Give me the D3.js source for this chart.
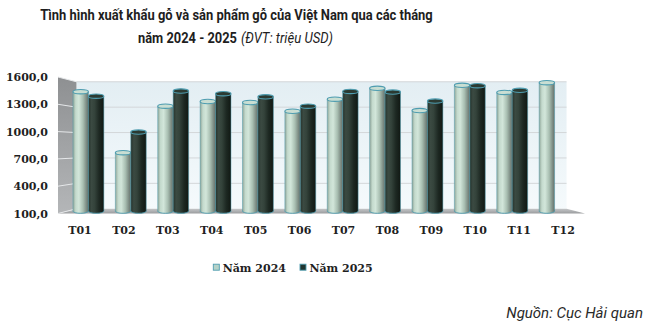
<!DOCTYPE html>
<html>
<head>
<meta charset="utf-8">
<script src="https://cdn.jsdelivr.net/npm/d3@7"></script>
<style>
  html, body { margin: 0; padding: 0; background: #fff; }
  svg { display: block; }
</style>
</head>
<body>
<svg id="chart" width="647" height="328"></svg>
<script>
// Monthly wood & wood product exports of Vietnam (million USD)
const months = ["T01", "T02", "T03", "T04", "T05", "T06", "T07", "T08", "T09", "T10", "T11", "T12"];
const seriesNames = ["Năm 2024", "Năm 2025"];
const values2024 = [1460, 766, 1295, 1348, 1337, 1237, 1375, 1498, 1245, 1532, 1452, 1563];
const values2025 = [1409, 1000, 1467, 1437, 1402, 1295, 1463, 1455, 1353, 1528, 1475, null];
const yTicks = [100, 400, 700, 1000, 1300, 1600];

const svg = d3.select("#chart");
const defs = svg.append("defs");

// Front plane of the 3D box, and a simple perspective toward its centre
const front = { left: 58, right: 585, top: 77, bottom: 213.5 };
const cx = (front.left + front.right) / 2;
const cy = (front.top + front.bottom) / 2;
const depthShrink = 0.07;
const proj = (x, y, t) => {
  const s = 1 - depthShrink * t;
  return [cx + (x - cx) * s, cy + (y - cy) * s];
};

const x = d3.scaleBand().domain(months).range([front.left, front.right]);
const inner = d3.scaleBand().domain(seriesNames).range([0, 32]).paddingInner(0);
const y = d3.scaleLinear().domain([100, 1600]).range([front.bottom, front.top]);

// Gradients
const lg = (id, x1, y1, x2, y2, stops) => {
  const g = defs.append("linearGradient").attr("id", id)
    .attr("x1", x1).attr("y1", y1).attr("x2", x2).attr("y2", y2);
  stops.forEach(([o, c]) => g.append("stop").attr("offset", o).attr("stop-color", c));
};
lg("wallBack", 0, 0, 0, 1, [[0, "#e3eef3"], [1, "#f5fafc"]]);
lg("wallLeft", 0, 0, 0, 1, [[0, "#8e9092"], [1, "#b4b6b8"]]);
lg("floor", 0, 0, 0, 1, [[0, "#c4c6c8"], [1, "#9a9c9e"]]);
lg("bar2024", 0, 0, 1, 0, [[0, "#8fa598"], [0.18, "#c4dacd"], [0.38, "#d2e6da"], [0.65, "#a9bfb2"], [0.88, "#7b8a82"], [1, "#65716b"]]);
lg("bar2025", 0, 0, 1, 0, [[0, "#26332c"], [0.2, "#3b4a42"], [0.4, "#34433b"], [0.7, "#1d2822"], [1, "#111813"]]);
const capFill = { "Năm 2024": "#c9ded3", "Năm 2025": "#2b3a32" };
const bodyFill = { "Năm 2024": "url(#bar2024)", "Năm 2025": "url(#bar2025)" };
const edge = "#4f9db0";

// Back wall
const bTL = proj(front.left, front.top, 1), bBR = proj(front.right, front.bottom, 1);
svg.append("rect")
  .attr("x", bTL[0]).attr("y", bTL[1])
  .attr("width", bBR[0] - bTL[0]).attr("height", bBR[1] - bTL[1])
  .attr("fill", "url(#wallBack)");

// Left side wall
const poly = pts => pts.map(p => p.join(",")).join(" ");
svg.append("polygon")
  .attr("points", poly([
    proj(front.left, front.top, 0), proj(front.left, front.top, 1),
    proj(front.left, front.bottom, 1), proj(front.left, front.bottom, 0)
  ]))
  .attr("fill", "url(#wallLeft)");

// Floor
svg.append("polygon")
  .attr("points", poly([
    proj(front.left, front.bottom, 1), proj(front.right, front.bottom, 1),
    proj(front.right, front.bottom, 0), proj(front.left, front.bottom, 0)
  ]))
  .attr("fill", "url(#floor)");

// Gridlines on back and side walls
yTicks.forEach(v => {
  const a = proj(front.left, y(v), 1), b = proj(front.right, y(v), 1);
  if (v > 100) {
    svg.append("line").attr("x1", a[0]).attr("y1", a[1]).attr("x2", b[0]).attr("y2", b[1])
      .attr("stroke", "#d3d7d9").attr("stroke-width", 1);
  }
  const f = proj(front.left, y(v), 0);
  svg.append("line").attr("x1", f[0]).attr("y1", f[1]).attr("x2", a[0]).attr("y2", a[1])
    .attr("stroke", "#e6e8ea").attr("stroke-width", 1);
});

// Cylinder bars, drawn half-way into the box
const rows = [];
months.forEach((m, i) => {
  [[seriesNames[0], values2024[i]], [seriesNames[1], values2025[i]]].forEach(([s, v]) => {
    if (v != null) rows.push({ month: m, series: s, value: v });
  });
});
const barW = inner.bandwidth();
const gBars = svg.append("g");
rows.forEach(d => {
  const x0f = x(d.month) + (x.bandwidth() - 32) / 2 + inner(d.series);
  const [xl, yt] = proj(x0f, y(d.value), 0.5);
  const [xr, yb] = proj(x0f + barW, y(100), 0.5);
  const w = xr - xl, rx = w / 2, ry = 2.2, xc = xl + rx;
  const g = gBars.append("g");
  g.append("ellipse").attr("cx", xc).attr("cy", yb).attr("rx", rx).attr("ry", ry)
    .attr("fill", bodyFill[d.series]).attr("stroke", edge).attr("stroke-width", 0.9);
  g.append("rect").attr("x", xl).attr("y", yt).attr("width", w).attr("height", yb - yt)
    .attr("fill", bodyFill[d.series]);
  g.append("line").attr("x1", xl).attr("x2", xl).attr("y1", yt).attr("y2", yb)
    .attr("stroke", edge).attr("stroke-width", 0.7).attr("stroke-opacity", 0.7);
  g.append("line").attr("x1", xr).attr("x2", xr).attr("y1", yt).attr("y2", yb)
    .attr("stroke", edge).attr("stroke-width", 0.7).attr("stroke-opacity", 0.7);
  g.append("ellipse").attr("cx", xc).attr("cy", yt).attr("rx", rx).attr("ry", ry)
    .attr("fill", capFill[d.series]).attr("stroke", edge).attr("stroke-width", 1.1);
});

// Axes
const fmt = d3.formatLocale({ decimal: ",", thousands: "", grouping: [3], currency: ["", ""] }).format(".1f");
const axisFont = "'DejaVu Serif', serif";
const yAxis = svg.append("g").attr("transform", `translate(${front.left},0)`)
  .call(d3.axisLeft(y).tickValues(yTicks).tickFormat(fmt).tickSize(0).tickPadding(10));
yAxis.select(".domain").remove();
yAxis.selectAll("text").attr("font-family", axisFont).attr("font-weight", "bold")
  .attr("font-size", 11).attr("fill", "#1f1f1f");

const xAxis = svg.append("g").attr("transform", `translate(0,${front.bottom})`)
  .call(d3.axisBottom(x).tickSize(0));
xAxis.select(".domain").remove();
xAxis.selectAll("text").attr("y", 20.5).attr("dy", null)
  .attr("font-family", axisFont).attr("font-weight", "bold")
  .attr("font-size", 11).attr("fill", "#1f1f1f");

// Legend
const legendFill = { "Năm 2024": "#b5d2c8", "Năm 2025": "#1f3530" };
const legendX = [213.3, 300];
seriesNames.forEach((s, i) => {
  const g = svg.append("g").attr("transform", `translate(${legendX[i]},264.2)`);
  g.append("rect").attr("width", 6).attr("height", 6)
    .attr("fill", legendFill[s]).attr("stroke", edge).attr("stroke-width", 0.9);
  g.append("text").attr("x", 9.4).attr("y", 7.3).text(s)
    .attr("font-family", axisFont).attr("font-weight", "bold")
    .attr("font-size", 11).attr("fill", "#1f1f1f");
});

// Title, horizontally condensed to the given widths
const titleFont = "Roboto, sans-serif";
const condensed = (tx, ty, width, anchor, txt, weight, style) => {
  const t = svg.append("text").attr("text-anchor", anchor)
    .attr("font-family", titleFont).attr("font-weight", weight).attr("font-style", style)
    .attr("font-size", 15.5).attr("fill", "#1e1e1e").text(txt);
  const k = width / t.node().getComputedTextLength();
  t.attr("transform", `translate(${tx},${ty}) scale(${k},1)`);
};
condensed(236.5, 19.5, 393, "middle", "Tình hình xuất khẩu gỗ và sản phẩm gỗ của Việt Nam qua các tháng", "bold", "normal");
condensed(138, 42.5, 99, "start", "năm 2024 - 2025", "bold", "normal");
condensed(241, 42.5, 92, "start", "(ĐVT: triệu USD)", "normal", "italic");

// Source note
svg.append("text").attr("x", 643).attr("y", 318).attr("text-anchor", "end")
  .attr("font-family", titleFont).attr("font-style", "italic").attr("font-size", 15)
  .attr("fill", "#2a2a2a").text("Nguồn: Cục Hải quan");
</script>
</body>
</html>
